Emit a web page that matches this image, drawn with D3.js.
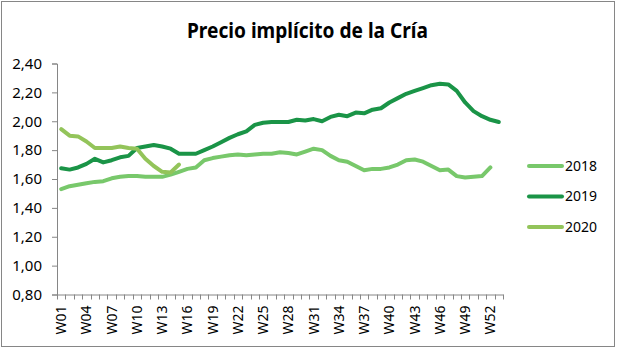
<!DOCTYPE html>
<html>
<head>
<meta charset="utf-8">
<script src="https://cdn.jsdelivr.net/npm/d3@7"></script>
<style>
  html, body { margin: 0; padding: 0; background: #fff; }
  svg { display: block; }
  text { font-family: "Noto Sans", "Open Sans", sans-serif; fill: #000; }
</style>
</head>
<body>
<svg id="chart" width="617" height="350"></svg>
<script>
const title = "Precio implícito de la Cría";
const weeks = d3.range(1, 54).map(i => "W" + String(i).padStart(2, "0"));
const yTicks = [0.8, 1.0, 1.2, 1.4, 1.6, 1.8, 2.0, 2.2, 2.4];
const seriesNames = ["2018", "2019", "2020"];
const seriesColors = ["#78C86B", "#1A9447", "#93C45A"];

const v2018 = [1.53, 1.55, 1.56, 1.57, 1.58, 1.585, 1.605, 1.615, 1.62, 1.62,
  1.615, 1.615, 1.615, 1.63, 1.65, 1.67, 1.68, 1.73, 1.745, 1.755,
  1.765, 1.77, 1.765, 1.77, 1.775, 1.775, 1.785, 1.78, 1.77, 1.79,
  1.81, 1.80, 1.76, 1.73, 1.72, 1.69, 1.66, 1.67, 1.67, 1.68,
  1.70, 1.73, 1.735, 1.72, 1.69, 1.66, 1.665, 1.62, 1.61, 1.615,
  1.62, 1.68];
const v2019 = [1.675, 1.665, 1.68, 1.705, 1.74, 1.715, 1.73, 1.75, 1.76, 1.815,
  1.825, 1.835, 1.825, 1.81, 1.775, 1.775, 1.775, 1.80, 1.825, 1.855,
  1.885, 1.91, 1.93, 1.975, 1.99, 1.995, 1.995, 1.995, 2.01, 2.005,
  2.015, 2.00, 2.03, 2.045, 2.035, 2.06, 2.055, 2.08, 2.09, 2.13,
  2.16, 2.19, 2.21, 2.23, 2.25, 2.26, 2.255, 2.21, 2.13, 2.07,
  2.035, 2.01, 1.995];
const v2020 = [1.945, 1.90, 1.895, 1.86, 1.815, 1.815, 1.815, 1.825, 1.815, 1.81,
  1.74, 1.69, 1.65, 1.645, 1.70];

const seriesValues = [v2018, v2019, v2020];

const svg = d3.select("#chart");

// outer border
svg.append("rect")
  .attr("x", 1.5).attr("y", 1.5)
  .attr("width", 613).attr("height", 345)
  .attr("fill", "#fff").attr("stroke", "#868686").attr("stroke-width", 1);

// title
svg.append("text")
  .attr("x", 307.5).attr("y", 38)
  .attr("text-anchor", "middle")
  .attr("font-size", 21).attr("font-weight", "bold")
  .attr("textLength", 241).attr("lengthAdjust", "spacingAndGlyphs")
  .text(title);

const x = d3.scaleBand().domain(weeks).range([57, 503]).paddingInner(0).paddingOuter(0);
const y = d3.scaleLinear().domain([0.8, 2.4]).range([294.5, 63.5]);
const axisColor = "#868686";

// Y axis
const yAxis = svg.append("g").attr("transform", "translate(57,0)")
  .call(d3.axisLeft(y).tickValues(yTicks).tickSize(5).tickPadding(10)
    .tickFormat(d => d3.format(".2f")(d).replace(".", ",")));
yAxis.select(".domain").attr("stroke", axisColor);
yAxis.selectAll(".tick line").attr("stroke", axisColor);
yAxis.selectAll(".tick text").attr("font-size", 15)
  .attr("font-family", "'Noto Sans', sans-serif").attr("fill", "#000");

// X axis
const xAxis = svg.append("g").attr("transform", "translate(0,294.5)")
  .call(d3.axisBottom(x).tickSize(0).tickPadding(0)
    .tickValues(weeks.filter((w, i) => i % 3 === 0)));
xAxis.select(".domain").attr("stroke", axisColor);
xAxis.selectAll(".tick text")
  .attr("font-size", 14).attr("font-family", "'Noto Sans', sans-serif").attr("fill", "#000")
  .attr("transform", "rotate(-90)")
  .attr("text-anchor", "end")
  .attr("x", -11).attr("y", 0).attr("dy", "0.35em");
// boundary tick marks
const bounds = weeks.map(w => x(w)).concat([x(weeks[weeks.length - 1]) + x.bandwidth()]);
xAxis.selectAll(".btick").data(bounds).enter().append("line")
  .attr("class", "btick")
  .attr("x1", d => Math.round(d) + 0.5).attr("x2", d => Math.round(d) + 0.5)
  .attr("y1", 0).attr("y2", 5)
  .attr("stroke", axisColor);

// lines
const line = d3.line()
  .x((d, i) => x(weeks[i]) + x.bandwidth() / 2)
  .y(d => y(d));

seriesValues.forEach((vals, k) => {
  svg.append("path")
    .datum(vals)
    .attr("fill", "none")
    .attr("stroke", seriesColors[k])
    .attr("stroke-width", 4)
    .attr("stroke-linejoin", "round")
    .attr("stroke-linecap", "round")
    .attr("d", line);
});

// legend
const legend = svg.append("g");
seriesNames.forEach((name, k) => {
  const ly = 166 + k * 30.5;
  legend.append("line")
    .attr("x1", 529).attr("x2", 562)
    .attr("y1", ly).attr("y2", ly)
    .attr("stroke", seriesColors[k]).attr("stroke-width", 4)
    .attr("stroke-linecap", "round");
  legend.append("text")
    .attr("x", 565).attr("y", ly).attr("dy", "0.35em")
    .attr("font-size", 14)
    .text(name);
});
</script>
</body>
</html>
